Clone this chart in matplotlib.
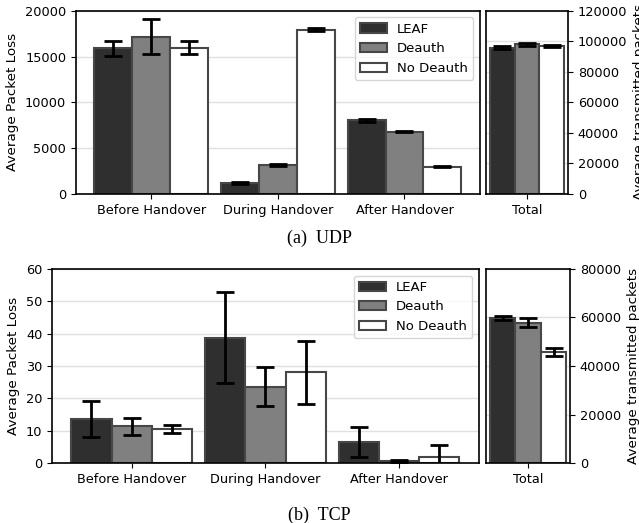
import numpy as np
import matplotlib
matplotlib.use("Agg")
import matplotlib.pyplot as plt

plt.rcParams["font.family"] = ["DejaVu Sans"]
plt.rcParams["font.size"] = 9.7

phases = ["Before Handover", "During Handover", "After Handover"]
series = ["LEAF", "Deauth", "No Deauth"]
colors = ["#2f2f2f", "#808080", "#ffffff"]

# UDP: average packet loss per phase (mean, error)
udp_loss = {
    "LEAF": [15900, 1200, 8050],
    "Deauth": [17150, 3150, 6820],
    "No Deauth": [15950, 17950, 3000],
}
udp_loss_err = {
    "LEAF": [800, 150, 150],
    "Deauth": [1900, 100, 100],
    "No Deauth": [700, 150, 100],
}
udp_total = [95800, 98000, 96700]
udp_total_err = [1000, 1000, 700]

# TCP
tcp_loss = {
    "LEAF": [13.7, 38.8, 6.6],
    "Deauth": [11.3, 23.6, 0.6],
    "No Deauth": [10.6, 28.0, 1.9],
}
tcp_loss_err = {
    "LEAF": [5.6, 14.0, 4.6],
    "Deauth": [2.5, 6.0, 0.3],
    "No Deauth": [1.2, 9.6, 3.6],
}
tcp_total = [59900, 57900, 45900]
tcp_total_err = [900, 2000, 1700]

W = 0.3
EDGE = "0.28"
ERR_KW = dict(ecolor="black", elinewidth=2, capsize=6.5, capthick=2)


def draw_panel(fig, main_rect, tot_rect, loss, loss_err, total, total_err,
               ylim, yticks, tot_ylim, tot_yticks):
    ax = fig.add_axes(main_rect)
    x = np.arange(len(phases))
    for i, s in enumerate(series):
        ax.bar(x + (i - 1) * W, loss[s], W, yerr=loss_err[s], color=colors[i],
               edgecolor=EDGE, linewidth=1.5, label=s, error_kw=ERR_KW, zorder=2)
    ax.set_xticks(x)
    ax.set_xticklabels(phases)
    ax.set_ylim(*ylim)
    ax.set_yticks(yticks)
    ax.set_ylabel("Average Packet Loss")
    ax.yaxis.grid(True, color="#e0e0e0", linewidth=1, zorder=0)
    ax.set_axisbelow(True)
    ax.legend(loc="upper right", fontsize=9.5)

    ax2 = fig.add_axes(tot_rect)
    for i, s in enumerate(series):
        ax2.bar((i - 1) * W, total[i], W, yerr=total_err[i], color=colors[i],
                edgecolor=EDGE, linewidth=1.5, error_kw=ERR_KW, zorder=2)
    ax2.set_xticks([0])
    ax2.set_xticklabels(["Total"])
    ax2.set_ylim(*tot_ylim)
    ax2.set_yticks(tot_yticks)
    ax2.yaxis.tick_right()
    ax2.yaxis.set_label_position("right")
    ax2.set_ylabel("Average transmitted packets")
    ax2.yaxis.grid(True, color="#e0e0e0", linewidth=1, zorder=0)
    ax2.set_axisbelow(True)
    for a in (ax, ax2):
        for sp in a.spines.values():
            sp.set_linewidth(1.2)
        a.tick_params(labelsize=9.3)
    return ax, ax2


fig = plt.figure(figsize=(6.39, 5.23), dpi=100)

draw_panel(fig, [0.1189, 0.629, 0.632, 0.3505], [0.7606, 0.629, 0.1283, 0.3505],
           udp_loss, udp_loss_err, udp_total, udp_total_err,
           (0, 20000), [0, 5000, 10000, 15000, 20000],
           (0, 120000), [0, 20000, 40000, 60000, 80000, 100000, 120000])

draw_panel(fig, [0.0814, 0.1147, 0.668, 0.371], [0.7606, 0.1147, 0.1315, 0.371],
           tcp_loss, tcp_loss_err, tcp_total, tcp_total_err,
           (0, 60), [0, 10, 20, 30, 40, 50, 60],
           (0, 80000), [0, 20000, 40000, 60000, 80000])

fig.text(0.5, 0.545, "(a)  UDP", ha="center", va="center",
         family="Liberation Serif", fontsize=13)
fig.text(0.5, 0.015, "(b)  TCP", ha="center", va="center",
         family="Liberation Serif", fontsize=13)

fig.savefig("out.png", dpi=100)
